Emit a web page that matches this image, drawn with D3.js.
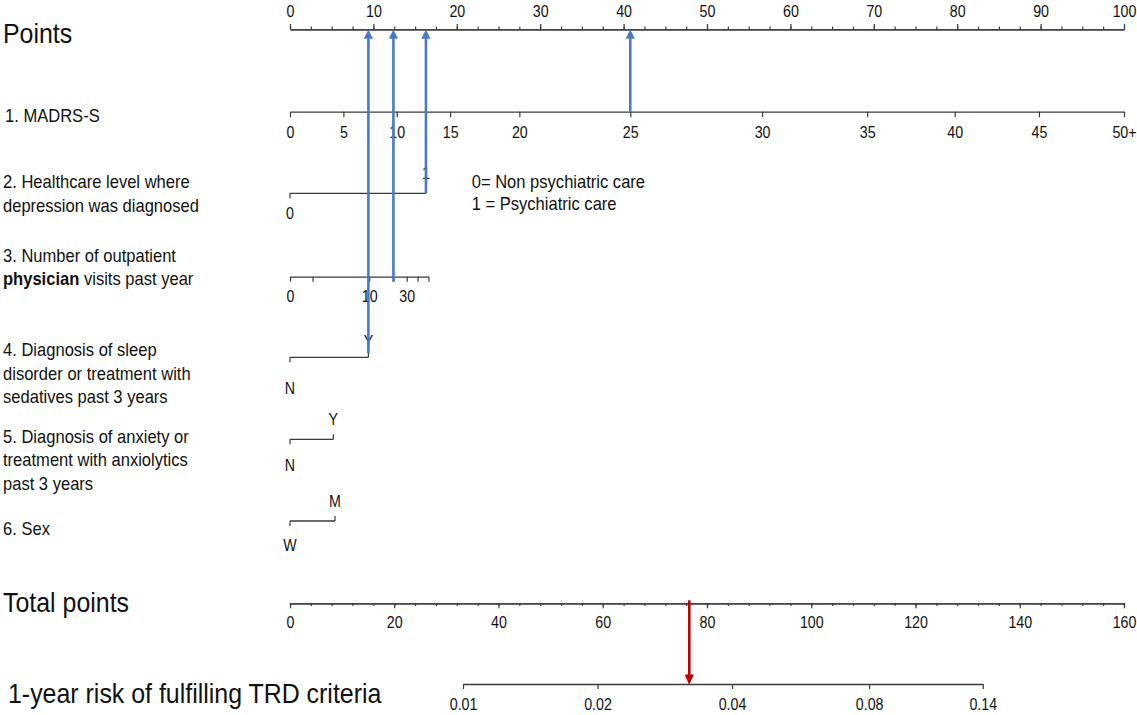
<!DOCTYPE html>
<html>

<head>
    <meta charset="utf-8" />
    <title>TRD nomogram</title>
    <script src="https://d3js.org/d3.v7.min.js"></script>
</head>

<body>
    <style>
        body {
            margin: 0;
            background: #fff;
        }

        svg text {
            font-family: "Liberation Sans", Arial, Helvetica, sans-serif;
            fill: #111;
        }
    </style>

    <div class="chart"></div>

    <script>
        // ---- values ----
        const pointsTicks = d3.range(0, 101, 10);
        const pointsMinor = d3.range(0, 100.1, 2.5);

        const madrsValues = [0, 5, 10, 15, 20, 25, 30, 35, 40, 45, 50];
        const madrsPoints = [0, 6.4, 12.8, 19.2, 27.5, 40.8, 56.6, 69.2, 79.7, 89.8, 100];
        const madrsLabels = ["0", "5", "10", "15", "20", "25", "30", "35", "40", "45", "50+"];

        const careLevels = ["0", "1"];
        const carePoints = [0, 16.3];
        const careLegend = ["0= Non psychiatric care", "1 = Psychiatric care"];

        const visitValues = [0, 1, 10, 20, 30, 40, 50];
        const visitPoints = [0, 2.7, 9.5, 12.4, 14.0, 15.3, 16.6];
        const visitLabelled = [0, 10, 30];

        const sleepLevels = ["N", "Y"];
        const sleepPoints = [0, 9.4];
        const anxietyLevels = ["N", "Y"];
        const anxietyPoints = [0, 5.2];
        const sexLevels = ["W", "M"];
        const sexPoints = [0, 5.4];

        const totalTicks = d3.range(0, 161, 20);
        const totalMinor = d3.range(0, 160.1, 4);

        const riskValues = [0.01, 0.02, 0.04, 0.08, 0.14];
        const riskTotals = [33.2, 59.0, 84.8, 111.1, 132.9];

        // the example patient traced with arrows
        const exampleMadrs = 25;
        const exampleCare = "1";
        const exampleVisits = 20;
        const exampleSleep = "Y";
        const exampleTotal = 76.6;

        // ---- layout ----
        const w = 1137, h = 715;
        const xLeft = 290, xRight = 1124;
        const rowY = {
            points: 29.3, madrs: 111.7, care: 193.3, visits: 276.7, sleep: 357.3,
            anxiety: 439.3, sex: 521, total: 603.3, risk: 684
        };
        const SX = 0.89;            // the source picture is squeezed sideways a bit
        const SX_SMALL = 0.92;      // small labels are a touch wider
        const axisColor = "#3a3a3a";
        const blue = "#4a78c8";
        const red = "#c00000";

        const svg = d3.select('.chart')
            .append('svg')
            .attr('width', w)
            .attr('height', h);

        const ptsX = d3.scaleLinear().domain([0, 100]).range([xLeft, xRight]);
        const totX = d3.scaleLinear().domain([0, 160]).range([xLeft, xRight]);
        const madrsScale = d3.scaleLinear().domain(madrsValues).range(madrsPoints.map(ptsX));
        const visitScale = d3.scaleLinear().domain(visitValues).range(visitPoints.map(ptsX));
        const riskScale = d3.scaleLinear().domain(riskValues).range(riskTotals.map(totX));

        function label(x, y, str, size, sx) {
            return svg.append('text')
                .attr('transform', `translate(${x},${y}) scale(${sx || SX},1)`)
                .attr('font-size', size)
                .text(str);
        }

        // style an axis group; labelY is the text baseline offset from the line
        function styleAxis(g, labelY) {
            g.select('.domain').attr('stroke', axisColor).attr('stroke-width', 1.3);
            g.selectAll('.tick line').attr('stroke', axisColor).attr('stroke-width', 1.2);
            g.selectAll('.tick text')
                .attr('font-size', 16)
                .attr('fill', '#111')
                .attr('y', labelY)
                .attr('dy', null)
                .attr('transform', `scale(${SX},1)`);
        }

        function drawAxis(y, scale, axisFn, major, minor, fmt, tickLen, labelY) {
            if (minor) {
                const gm = svg.append('g').attr('transform', `translate(0,${y})`);
                gm.call(axisFn(scale).tickValues(minor).tickSize(2.7).tickSizeOuter(0).tickFormat(''));
                styleAxis(gm, labelY);
            }
            const g = svg.append('g').attr('transform', `translate(0,${y})`);
            g.call(axisFn(scale).tickValues(major).tickSize(tickLen).tickSizeOuter(0).tickFormat(fmt));
            styleAxis(g, labelY);
            return g;
        }

        // points (top)
        drawAxis(rowY.points, ptsX, d3.axisTop, pointsTicks, pointsMinor, d3.format('d'), 5.3, -12.6);

        // MADRS-S
        drawAxis(rowY.madrs, madrsScale, d3.axisBottom, madrsValues, null,
            (d, i) => madrsLabels[i], 5.5, 26);

        // outpatient visits (only some ticks are labelled)
        drawAxis(rowY.visits, visitScale, d3.axisBottom, visitValues, null,
            d => visitLabelled.includes(d) ? d : '', 5, 25);

        // two-level rows: first level below the line, second above
        function catRow(levels, pts, y, offBelow, offAbove) {
            const sc = d3.scaleOrdinal().domain(levels).range(pts);
            const g = svg.append('g').attr('transform', `translate(0,${y})`);
            g.append('line')
                .attr('x1', ptsX(sc(levels[0])))
                .attr('x2', ptsX(sc(levels[1])))
                .attr('stroke', axisColor)
                .attr('stroke-width', 1.3);
            g.selectAll('line.tk')
                .data(levels)
                .join('line')
                .attr('class', 'tk')
                .attr('x1', d => ptsX(sc(d)))
                .attr('x2', d => ptsX(sc(d)))
                .attr('y1', 0)
                .attr('y2', (d, i) => i ? -5 : 5)
                .attr('stroke', axisColor)
                .attr('stroke-width', 1.2);
            g.selectAll('text')
                .data(levels)
                .join('text')
                .attr('transform', (d, i) => `translate(${ptsX(sc(d))},${i ? offAbove : offBelow}) scale(${SX},1)`)
                .attr('font-size', 16)
                .attr('text-anchor', 'middle')
                .text(d => d);
            return sc;
        }

        const careScale = catRow(careLevels, carePoints, rowY.care, 26, -14);
        const sleepScale = catRow(sleepLevels, sleepPoints, rowY.sleep, 36.7, -10.3);
        catRow(anxietyLevels, anxietyPoints, rowY.anxiety, 31.4, -14.3);
        catRow(sexLevels, sexPoints, rowY.sex, 30, -14);

        // total points
        drawAxis(rowY.total, totX, d3.axisBottom, totalTicks, totalMinor, d3.format('d'), 5, 24.7);

        // risk
        drawAxis(rowY.risk, riskScale, d3.axisBottom, riskValues, null, d3.format('.2f'), 5, 26);

        // legend for healthcare level
        careLegend.forEach((t, i) => label(471.7, 188 + i * 22, t, 18, SX_SMALL));

        // left hand labels
        const rowLabels = [
            { y: 121.7, x: 5, lines: [[["1. MADRS-S"]]] },
            { y: 188, lines: [[["2. Healthcare level where"]], [["depression was diagnosed"]]] },
            { y: 261.7, lines: [[["3. Number of outpatient"]], [["physician", true], [" visits past year"]]] },
            { y: 356, lines: [[["4. Diagnosis of sleep"]], [["disorder or treatment with"]], [["sedatives past 3 years"]]] },
            { y: 442.7, lines: [[["5. Diagnosis of anxiety or"]], [["treatment with anxiolytics"]], [["past 3 years"]]] },
            { y: 535, lines: [[["6. Sex"]]] }
        ];
        rowLabels.forEach(r => {
            r.lines.forEach((parts, i) => {
                const t = svg.append('text')
                    .attr('transform', `translate(${r.x || 3},${r.y + i * 23.6}) scale(${SX_SMALL},1)`)
                    .attr('font-size', 18);
                parts.forEach(p => {
                    t.append('tspan').attr('font-weight', p[1] ? 'bold' : null).text(p[0]);
                });
            });
        });

        label(3, 43, "Points", 28);
        label(3, 612, "Total points", 28);
        label(8, 703, "1-year risk of fulfilling TRD criteria", 28);

        // ---- arrows for the example patient ----
        const blueArrows = [
            { x: madrsScale(exampleMadrs), y: rowY.madrs },
            { x: ptsX(careScale(exampleCare)), y: rowY.care },
            { x: visitScale(exampleVisits), y: rowY.visits + 5 },
            { x: ptsX(sleepScale(exampleSleep)), y: rowY.sleep - 4 }
        ];
        const headLen = 9, headW = 4.6;

        svg.selectAll('line.blue')
            .data(blueArrows)
            .join('line')
            .attr('class', 'blue')
            .attr('x1', d => d.x).attr('x2', d => d.x)
            .attr('y1', d => d.y).attr('y2', rowY.points + headLen)
            .attr('stroke', blue)
            .attr('stroke-width', 2.6);
        svg.selectAll('path.bluehead')
            .data(blueArrows)
            .join('path')
            .attr('class', 'bluehead')
            .attr('d', d => `M${d.x},${rowY.points + 0.3} L${d.x - headW},${rowY.points + headLen + 0.5} L${d.x + headW},${rowY.points + headLen + 0.5} Z`)
            .attr('fill', blue);

        const rx = totX(exampleTotal);
        svg.append('line')
            .attr('x1', rx).attr('x2', rx)
            .attr('y1', rowY.total - 3).attr('y2', rowY.risk - headLen)
            .attr('stroke', red)
            .attr('stroke-width', 2.6);
        svg.append('path')
            .attr('d', `M${rx},${rowY.risk + 1} L${rx - headW},${rowY.risk - headLen - 0.5} L${rx + headW},${rowY.risk - headLen - 0.5} Z`)
            .attr('fill', red);
    </script>

</body>

</html>
